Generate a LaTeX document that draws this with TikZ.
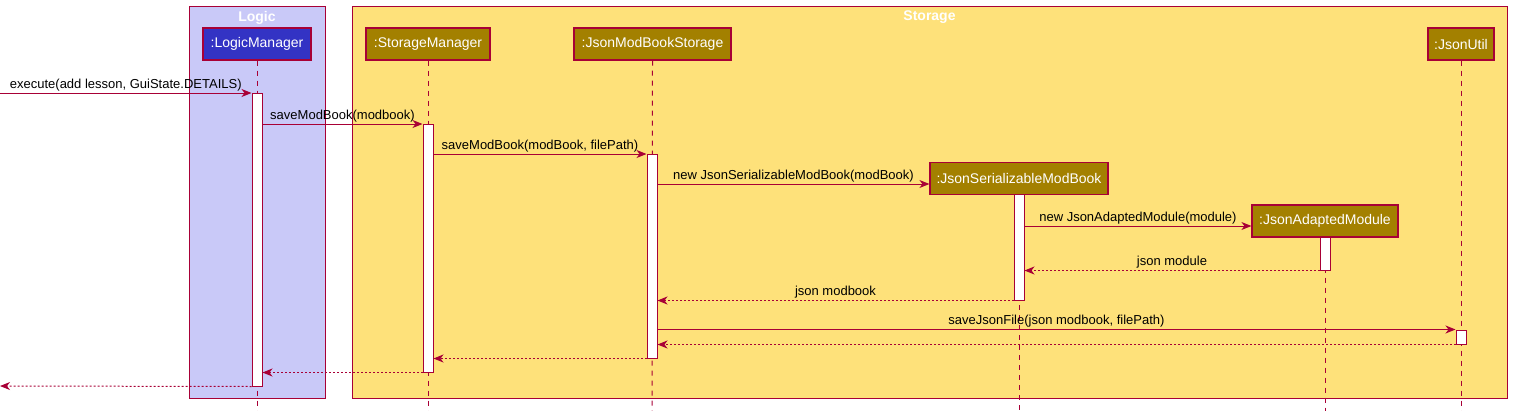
\documentclass[tikz,border=0pt]{standalone}
\usepackage{fontspec}
\setmainfont{Liberation Sans}
\usetikzlibrary{arrows.meta}
\definecolor{bd}{HTML}{A80036}
\definecolor{logicbg}{HTML}{C9C9F8}
\definecolor{storbg}{HTML}{FEE17A}
\definecolor{logicpart}{HTML}{3333C4}
\definecolor{storpart}{HTML}{A38000}
\begin{document}
\begin{tikzpicture}[x=1pt,y=-1pt,
  grp/.style={draw=bd, line width=1pt, inner sep=0pt},
  grptitle/.style={text=white, font=\bfseries\fontsize{14}{16}\selectfont, inner sep=0pt},
  part/.style={draw=bd, line width=1.2pt, text=white, font=\fontsize{14}{16}\selectfont, inner sep=0pt, minimum height=32pt},
  life/.style={draw=bd, line width=1pt, dash pattern=on 5pt off 5pt},
  act/.style={draw=bd, fill=white, line width=1pt, inner sep=0pt, minimum width=10pt},
  msg/.style={draw=bd, line width=1pt, -{Stealth[length=10pt,width=8pt,inset=3pt]}},
  ret/.style={msg, dash pattern=on 2pt off 2pt},
  lbl/.style={font=\fontsize{13}{15}\selectfont, text=black, inner sep=1.5pt, above}
]
\useasboundingbox (0,0) rectangle (1513,410);
% groups
\node[grp, fill=logicbg, minimum width=136pt, minimum height=392pt] (gl) at (257,202) {};
\node[grp, fill=storbg, minimum width=1155pt, minimum height=392pt] (gs) at (929.5,202) {};
\node[grptitle] (glt) at (257,17.5) {Logic};
\node[grptitle] (gst) at (929.5,17.5) {Storage};
% participants
\node[part, fill=logicpart, minimum width=108pt] (lm) at (257,44) {:LogicManager};
\node[part, fill=storpart, minimum width=124pt] (sm) at (428,44) {:StorageManager};
\node[part, fill=storpart, minimum width=157pt] (js) at (652.5,44) {:JsonModBookStorage};
\node[part, fill=storpart, minimum width=66pt] (ju) at (1461,44) {:JsonUtil};
\node[part, fill=storpart, minimum width=178pt] (jb) at (1019,178.5) {:JsonSerializableModBook};
\node[part, fill=storpart, minimum width=146pt] (jm) at (1325,221) {:JsonAdaptedModule};
% lifelines
\coordinate (lmE) at (257,412);
\coordinate (smE) at (428,412);
\coordinate (jsE) at (652,412);
\coordinate (juE) at (1461,412);
\coordinate (jbE) at (1019,412);
\coordinate (jmE) at (1325,412);
\draw[life] (lm.south) -- (lmE);
\draw[life] (sm.south) -- (smE);
\draw[life] (js.south) -- (jsE);
\draw[life] (ju.south) -- (juE);
\draw[life] (jb.south) -- (jbE);
\draw[life] (jm.south) -- (jmE);
% activations
\node[act, minimum height=293pt] (lmA) at (257,239.5) {};
\node[act, minimum height=248pt] (smA) at (428,248) {};
\node[act, minimum height=204pt] (jsA) at (652,256) {};
\node[act, minimum height=106pt] (jbA) at (1019,247) {};
\node[act, minimum height=33pt] (jmA) at (1325,253.5) {};
\node[act, minimum height=14pt] (juA) at (1461,337) {};
% free ends
\coordinate (inS) at (0,93);
\coordinate (outE) at (0,386);
\coordinate (jbIn) at ([yshift=-5.5pt]jb.west);
\coordinate (jmIn) at ([yshift=-5pt]jm.west);
% messages
\draw[msg] (inS) -- (lmA.west |- inS) node[lbl, midway] {execute(add lesson, GuiState.DETAILS)};
\draw[msg] (lmA.east |- 0,124) -- (smA.west |- 0,124) node[lbl, midway] {saveModBook(modbook)};
\draw[msg] (smA.east |- 0,154) -- (jsA.west |- 0,154) node[lbl, midway] {saveModBook(modBook, filePath)};
\draw[msg] (jsA.east |- jbIn) -- (jbIn) node[lbl, midway] {new JsonSerializableModBook(modBook)};
\draw[msg] (jbA.east |- jmIn) -- (jmIn) node[lbl, midway] {new JsonAdaptedModule(module)};
\draw[ret] (jmA.south west) -- (jbA.east |- jmA.south) node[lbl, midway] {json module};
\draw[ret] (jbA.south west) -- (jsA.east |- jbA.south) node[lbl, midway] {json modbook};
\draw[msg] (jsA.east |- juA.north) -- (juA.north west) node[lbl, midway] {saveJsonFile(json modbook, filePath)};
\draw[ret] (juA.south west) -- (jsA.east |- juA.south);
\draw[ret] (jsA.south west) -- (smA.east |- jsA.south);
\draw[ret] (smA.south west) -- (lmA.east |- smA.south);
\draw[ret] (lmA.south west) -- (outE);
\end{tikzpicture}
\end{document}
